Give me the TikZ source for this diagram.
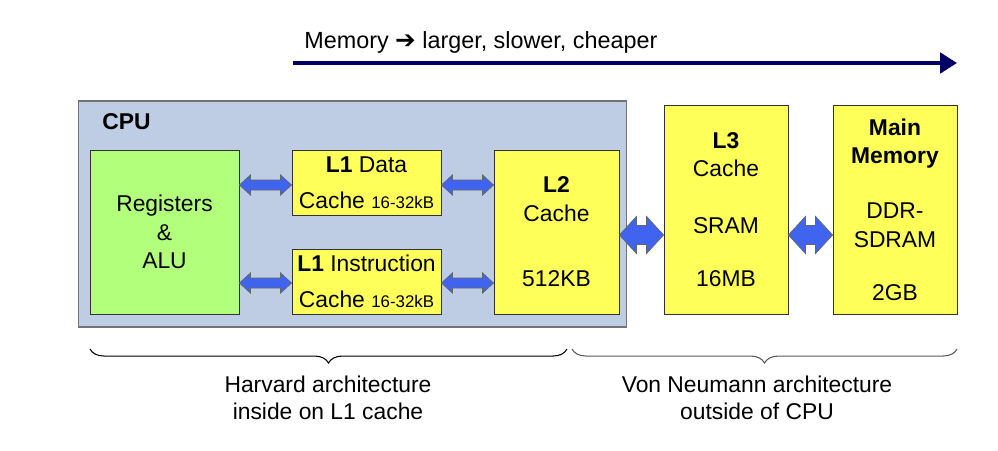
\documentclass[tikz,border=0pt]{standalone}
\usepackage{fontspec}
\setmainfont{Liberation Sans}
\newfontfamily\arrowfont{DejaVu Sans}
\usetikzlibrary{arrows.meta,calc,decorations.pathreplacing}

\definecolor{cpublue}{RGB}{190,205,228}
\definecolor{regreen}{RGB}{178,255,124}
\definecolor{cacheyellow}{RGB}{255,255,90}
\definecolor{arrowblue}{RGB}{64,100,240}
\definecolor{navy}{RGB}{0,0,100}

% two-headed block arrow: start, end, half width, half shaft, head length
\newcommand{\blockarrow}[5]{%
  \filldraw[blockarr] (#1) -- ($(#1)+(#5,-#3)$) -- ($(#1)+(#5,-#4)$) -- ($(#2)+(-#5,-#4)$)
    -- ($(#2)+(-#5,-#3)$) -- (#2) -- ($(#2)+(-#5,#3)$) -- ($(#2)+(-#5,#4)$)
    -- ($(#1)+(#5,#4)$) -- ($(#1)+(#5,#3)$) -- cycle;}

\begin{document}
\begin{tikzpicture}[x=0.02cm, y=-0.02cm]
  \tikzset{
    every node/.style={font=\fontsize{13}{16.2}\selectfont},
    box/.style={draw=black!80, line width=0.5pt, align=center, inner sep=0pt},
    cache/.style={box, fill=cacheyellow},
    blockarr/.style={draw=black!60, fill=arrowblue, line width=0.4pt, line join=miter},
    brace/.style={decorate, decoration={brace, mirror, amplitude=8pt}, line width=0.6pt},
  }

  \useasboundingbox (0,0) rectangle (998,450);

  % memory trend
  \coordinate (memstart) at (293,63);
  \coordinate (memend) at (957,63);
  \draw[navy, line width=2.3pt, -{Triangle[length=9.6pt,width=11.5pt]}] (memstart) -- (memend);
  \node[anchor=west, inner sep=0pt, font=\fontsize{13.3}{16}\selectfont] (trend) at (304,42)
    {Memory {\arrowfont\fontsize{14}{16}\selectfont ➔} larger, slower, cheaper};

  % cpu
  \node[draw=black!55, fill=cpublue, line width=0.6pt, minimum width=10.98cm, minimum height=4.52cm]
    (cpu) at (352.5,214) {};
  \node[anchor=west, inner sep=0pt, font=\fontsize{13}{16.2}\selectfont\bfseries] (cpulabel) at (102,122) {CPU};

  \node[box, fill=regreen, minimum width=2.98cm, minimum height=3.28cm] (reg) at (164.5,232)
    {Registers\\\&\\ALU};
  \node[cache, minimum width=2.98cm, minimum height=1.3cm] (l1d) at (366.5,182.5)
    {\textbf{L1} Data\\[4.5pt]Cache {\fontsize{9.6}{11}\selectfont 16-32kB}};
  \node[cache, minimum width=2.98cm, minimum height=1.3cm] (l1i) at (366.5,281.5)
    {\textbf{L1} Instruction\\[4.5pt]Cache {\fontsize{9.6}{11}\selectfont 16-32kB}};
  \node[cache, minimum width=2.5cm, minimum height=3.28cm] (l2) at (556.5,232)
    {\textbf{L2}\\Cache\\[21pt]512KB};

  % outside
  \node[cache, minimum width=2.48cm, minimum height=4.18cm] (l3) at (726,209.5)
    {\textbf{L3}\\Cache\\[16pt]SRAM\\[14pt]16MB};
  \node[cache, minimum width=2.48cm, minimum height=4.18cm] (mm) at (895,209.5)
    {\textbf{Main}\\\textbf{Memory}\\[15pt]DDR-\\SDRAM\\[14pt]2GB};

  % links
  \coordinate (d1) at ($(l1d.west)+(0,2.5)$);
  \coordinate (d2) at ($(l1i.west)+(0,1.5)$);
  \coordinate (d3) at ($(l2.east)+(0,3)$);
  \blockarrow{reg.east |- d1}{d1}{10}{5}{11}
  \blockarrow{reg.east |- d2}{d2}{10}{5}{11}
  \blockarrow{l1d.east |- d1}{l2.west |- d1}{10}{5}{11}
  \blockarrow{l1i.east |- d2}{l2.west |- d2}{10}{5}{11}
  \blockarrow{d3}{l3.west |- d3}{18.5}{9.5}{17}
  \blockarrow{l3.east |- d3}{mm.west |- d3}{18.5}{9.5}{17}

  % braces
  \coordinate (hleft) at (90,349);
  \coordinate (hright) at (567,349);
  \coordinate (vleft) at (572,349);
  \coordinate (vright) at (957,349);
  \draw[brace] (hleft) -- (hright);
  \draw[brace, black!65] (vleft) -- (vright);

  \node[align=center, inner sep=0pt, font=\fontsize{13}{15.3}\selectfont] (harvard) at (328,398)
    {Harvard architecture\\inside on L1 cache};
  \node[align=center, inner sep=0pt, font=\fontsize{13}{15.3}\selectfont] (vonneumann) at (757,398)
    {Von Neumann architecture\\outside of CPU};
\end{tikzpicture}
\end{document}
